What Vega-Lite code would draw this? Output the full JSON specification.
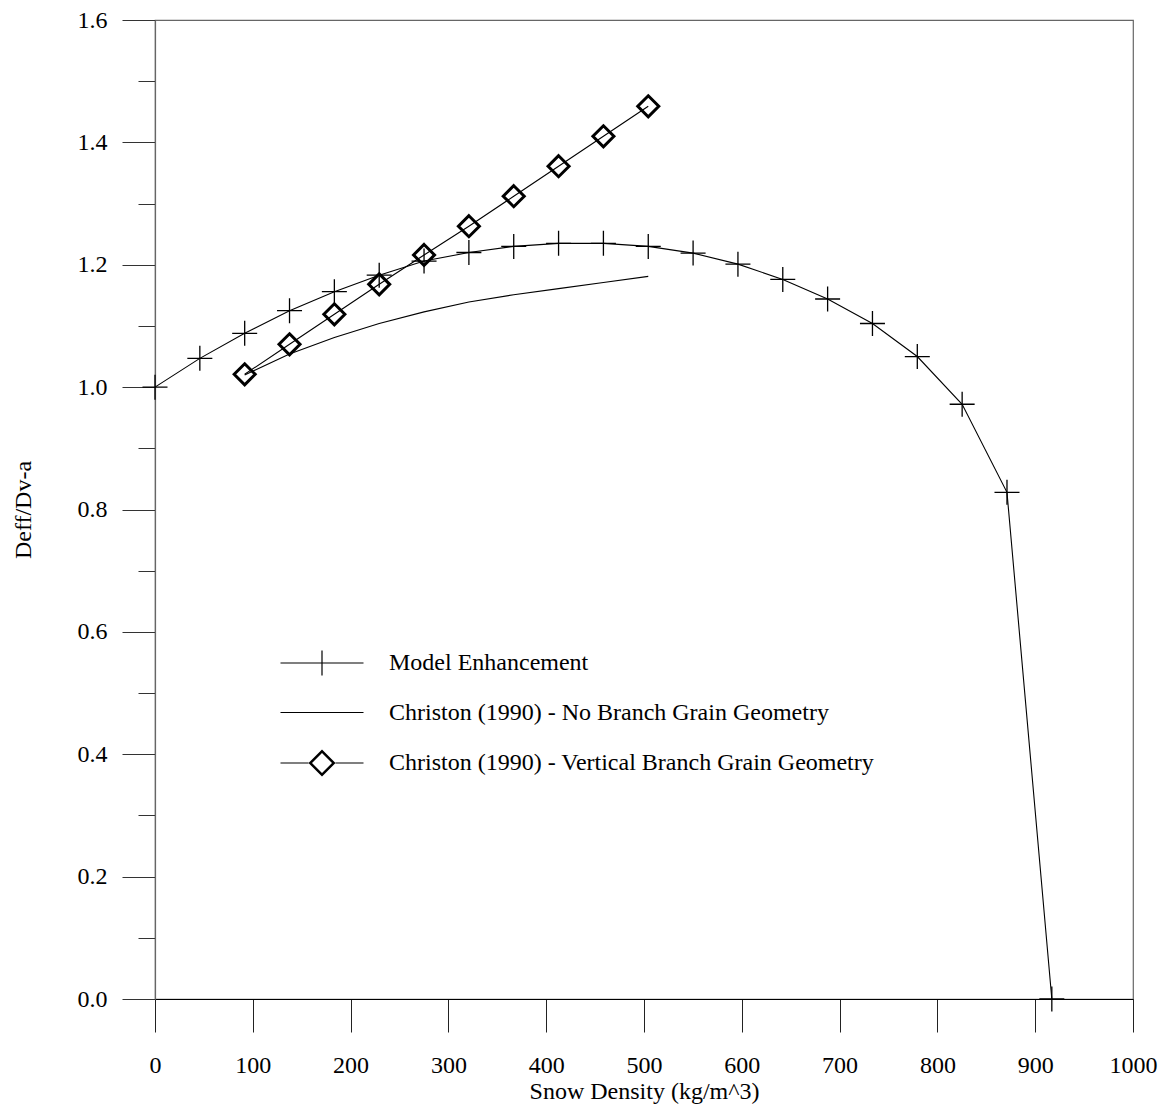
{
  "$schema": "https://vega.github.io/schema/vega-lite/v6.json",
  "width": 978,
  "height": 979,
  "autosize": {"type": "none"},
  "padding": {"left": 155, "top": 20, "right": 29, "bottom": 107},
  "background": "white",
  "config": {
    "view": {"stroke": "#666", "strokeWidth": 1.2},
    "font": "Liberation Serif"
  },
  "data": {
    "values": [
      {"series": "Model Enhancement", "density": 0, "ratio": 1.0},
      {"series": "Model Enhancement", "density": 45.85, "ratio": 1.047},
      {"series": "Model Enhancement", "density": 91.7, "ratio": 1.088},
      {"series": "Model Enhancement", "density": 137.55, "ratio": 1.125},
      {"series": "Model Enhancement", "density": 183.4, "ratio": 1.156},
      {"series": "Model Enhancement", "density": 229.25, "ratio": 1.183},
      {"series": "Model Enhancement", "density": 275.1, "ratio": 1.206},
      {"series": "Model Enhancement", "density": 320.95, "ratio": 1.22},
      {"series": "Model Enhancement", "density": 366.8, "ratio": 1.23},
      {"series": "Model Enhancement", "density": 412.65, "ratio": 1.235},
      {"series": "Model Enhancement", "density": 458.5, "ratio": 1.235},
      {"series": "Model Enhancement", "density": 504.35, "ratio": 1.23},
      {"series": "Model Enhancement", "density": 550.2, "ratio": 1.219},
      {"series": "Model Enhancement", "density": 596.05, "ratio": 1.201},
      {"series": "Model Enhancement", "density": 641.9, "ratio": 1.176},
      {"series": "Model Enhancement", "density": 687.75, "ratio": 1.144},
      {"series": "Model Enhancement", "density": 733.6, "ratio": 1.104},
      {"series": "Model Enhancement", "density": 779.45, "ratio": 1.05},
      {"series": "Model Enhancement", "density": 825.3, "ratio": 0.972},
      {"series": "Model Enhancement", "density": 871.15, "ratio": 0.828},
      {"series": "Model Enhancement", "density": 917, "ratio": 0.0},
      {"series": "Christon (1990) - No Branch Grain Geometry", "density": 91.7, "ratio": 1.02},
      {"series": "Christon (1990) - No Branch Grain Geometry", "density": 137.55, "ratio": 1.054},
      {"series": "Christon (1990) - No Branch Grain Geometry", "density": 183.4, "ratio": 1.081},
      {"series": "Christon (1990) - No Branch Grain Geometry", "density": 229.25, "ratio": 1.104},
      {"series": "Christon (1990) - No Branch Grain Geometry", "density": 275.1, "ratio": 1.123},
      {"series": "Christon (1990) - No Branch Grain Geometry", "density": 320.95, "ratio": 1.139},
      {"series": "Christon (1990) - No Branch Grain Geometry", "density": 366.8, "ratio": 1.151},
      {"series": "Christon (1990) - No Branch Grain Geometry", "density": 412.65, "ratio": 1.161},
      {"series": "Christon (1990) - No Branch Grain Geometry", "density": 458.5, "ratio": 1.171},
      {"series": "Christon (1990) - No Branch Grain Geometry", "density": 504.35, "ratio": 1.181},
      {"series": "Christon (1990) - Vertical Branch Grain Geometry", "density": 91.7, "ratio": 1.021},
      {"series": "Christon (1990) - Vertical Branch Grain Geometry", "density": 137.55, "ratio": 1.07},
      {"series": "Christon (1990) - Vertical Branch Grain Geometry", "density": 183.4, "ratio": 1.119},
      {"series": "Christon (1990) - Vertical Branch Grain Geometry", "density": 229.25, "ratio": 1.168},
      {"series": "Christon (1990) - Vertical Branch Grain Geometry", "density": 275.1, "ratio": 1.216},
      {"series": "Christon (1990) - Vertical Branch Grain Geometry", "density": 320.95, "ratio": 1.263},
      {"series": "Christon (1990) - Vertical Branch Grain Geometry", "density": 366.8, "ratio": 1.312},
      {"series": "Christon (1990) - Vertical Branch Grain Geometry", "density": 412.65, "ratio": 1.361},
      {"series": "Christon (1990) - Vertical Branch Grain Geometry", "density": 458.5, "ratio": 1.41},
      {"series": "Christon (1990) - Vertical Branch Grain Geometry", "density": 504.35, "ratio": 1.459}
    ]
  },
  "encoding": {
    "x": {
      "field": "density",
      "type": "quantitative",
      "scale": {"domain": [0, 1000], "nice": false, "zero": false},
      "axis": {
        "title": "Snow Density (kg/m^3)",
        "values": [0, 100, 200, 300, 400, 500, 600, 700, 800, 900, 1000],
        "format": "d",
        "grid": false,
        "labelFlush": false,
        "labelOverlap": false,
        "tickSize": 33,
        "tickColor": "#222",
        "domainColor": "#000",
        "labelPadding": 21,
        "labelFont": "Liberation Serif",
        "labelFontSize": 24,
        "labelColor": "black",
        "titleFont": "Liberation Serif",
        "titleFontSize": 24,
        "titleFontWeight": "normal",
        "titleColor": "black",
        "titleBaseline": "top",
        "titleY": 80
      }
    },
    "y": {
      "field": "ratio",
      "type": "quantitative",
      "scale": {"domain": [0, 1.6], "nice": false, "zero": false},
      "axis": {
        "title": "Deff/Dv-a",
        "values": [0, 0.1, 0.2, 0.3, 0.4, 0.5, 0.6, 0.7, 0.8, 0.9, 1.0, 1.1, 1.2, 1.3, 1.4, 1.5, 1.6],
        "labelExpr": "round(datum.value * 10) % 2 === 0 ? format(datum.value, '.1f') : ''",
        "grid": false,
        "labelFlush": false,
        "labelOverlap": false,
        "tickSize": {"condition": {"test": "round(datum.value * 10) % 2 === 0", "value": 33}, "value": 17},
        "tickColor": "#333",
        "domainColor": "#666",
        "domainWidth": 1.2,
        "labelPadding": 15,
        "labelFont": "Liberation Serif",
        "labelFontSize": 24,
        "labelColor": "black",
        "titleFont": "Liberation Serif",
        "titleFontSize": 24,
        "titleFontWeight": "normal",
        "titleColor": "black",
        "titleBaseline": "middle",
        "titleX": -132
      }
    }
  },
  "layer": [
    {
      "mark": {"type": "line", "strokeWidth": 1.1, "interpolate": "linear"},
      "encoding": {
        "color": {
          "field": "series",
          "type": "nominal",
          "scale": {
            "domain": ["Model Enhancement", "Christon (1990) - No Branch Grain Geometry", "Christon (1990) - Vertical Branch Grain Geometry"],
            "range": ["black", "black", "black"]
          },
          "legend": {
            "title": null,
            "orient": "none",
            "legendX": 155,
            "legendY": 631,
            "padding": 0,
            "symbolSize": 400,
            "symbolStrokeWidth": 0,
            "symbolOffset": 0,
            "labelOffset": 55,
            "rowPadding": 24.5,
            "labelFont": "Liberation Serif",
            "labelFontSize": 24,
            "labelColor": "black",
            "labelLimit": 0,
            "encode": {
              "symbols": {
                "update": {
                  "shape": {"signal": "datum.value === 'Model Enhancement' ? 'M-4.15,-0.06H4.15V0.06H-4.15Z M-0.06,-1.25H0.06V1.25H-0.06Z' : (datum.value === 'Christon (1990) - No Branch Grain Geometry' ? 'M-4.15,-0.06H4.15V0.06H-4.15Z' : 'M-4.15,-0.06H-1.35V0.06H-4.15Z M1.35,-0.06H4.15V0.06H1.35Z M0,-1.35L1.35,0L0,1.35L-1.35,0Z M0,-1L-1,0L0,1L1,0Z')"},
                  "fill": {"value": "black"},
                  "fillOpacity": {"value": 1},
                  "stroke": {"value": "transparent"},
                  "strokeWidth": {"value": 0},
                  "size": {"value": 400}
                }
              }
            }
          }
        }
      }
    },
    {
      "transform": [{"filter": "datum.series !== 'Christon (1990) - No Branch Grain Geometry'"}],
      "mark": {"type": "point", "filled": false, "color": "black", "opacity": 1},
      "encoding": {
        "shape": {
          "field": "series",
          "type": "nominal",
          "scale": {
            "domain": ["Model Enhancement", "Christon (1990) - Vertical Branch Grain Geometry"],
            "range": ["M-1,0H1M0,-1V1", "M0,-1L1,0L0,1L-1,0Z"]
          },
          "legend": null
        },
        "size": {
          "field": "series",
          "type": "nominal",
          "scale": {
            "domain": ["Model Enhancement", "Christon (1990) - Vertical Branch Grain Geometry"],
            "range": [625, 441]
          },
          "legend": null
        },
        "strokeWidth": {
          "field": "series",
          "type": "nominal",
          "scale": {
            "domain": ["Model Enhancement", "Christon (1990) - Vertical Branch Grain Geometry"],
            "range": [1.3, 3]
          },
          "legend": null
        }
      }
    }
  ]
}
